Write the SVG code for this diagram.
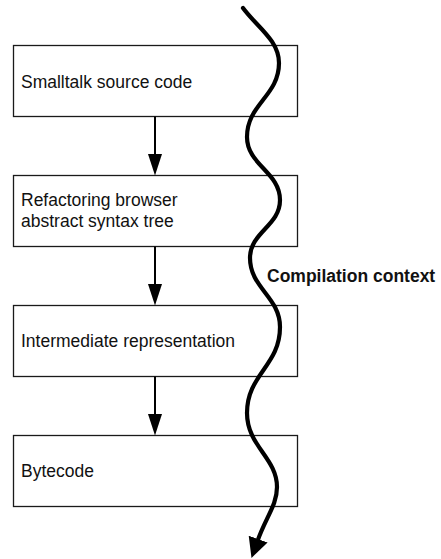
<svg xmlns="http://www.w3.org/2000/svg" width="441" height="559" viewBox="0 0 441 559">
<style>
.box{fill:#fff;stroke:#1a1a1a;stroke-width:1.3}
.lbl{font-family:"Liberation Sans",Arial,sans-serif;font-size:17.5px;fill:#111}
.bold{font-weight:bold}
.flow{stroke:#000;stroke-width:2;fill:none}
.ctx{stroke:#000;stroke-width:4.2;fill:none;stroke-linecap:round}
</style>
<defs>
<marker id="ah" markerUnits="userSpaceOnUse" viewBox="0 0 22 14.4" markerWidth="22" markerHeight="14.4" refX="6" refY="7.2" orient="auto">
<path d="M0,0 L22,7.2 L0,14.4 z" fill="#000"/>
</marker>
<marker id="big" markerUnits="userSpaceOnUse" viewBox="0 0 20 20" markerWidth="20" markerHeight="20" refX="2" refY="10" orient="auto">
<path d="M0,0 L20,10 L0,20 z" fill="#000"/>
</marker>
</defs>
<g id="node1"><rect class="box" x="13.5" y="45.5" width="284" height="71"/><text class="lbl" x="21" y="87.5">Smalltalk source code</text></g>
<g id="node2"><rect class="box" x="13.5" y="175.5" width="284" height="71"/><text class="lbl" x="21" y="206">Refactoring browser</text><text class="lbl" x="21" y="226.5">abstract syntax tree</text></g>
<g id="node3"><rect class="box" x="13.5" y="305.5" width="284" height="71"/><text class="lbl" x="21" y="347">Intermediate representation</text></g>
<g id="node4"><rect class="box" x="13.5" y="435.5" width="284" height="71"/><text class="lbl" x="21" y="477">Bytecode</text></g>
<g id="connectors">
<line class="flow" x1="155" y1="116.5" x2="155" y2="159.5" marker-end="url(#ah)"/>
<line class="flow" x1="155" y1="246.5" x2="155" y2="289.5" marker-end="url(#ah)"/>
<line class="flow" x1="155" y1="376.5" x2="155" y2="419.5" marker-end="url(#ah)"/>
<path class="ctx" d="M243,8 C256,26 279,40 279,63 C279,96 247,104 247,137 C247,165 280,172 280,200 C280,226 250,232 250,258 C250,288 280,297 280,327 C280,366 247,374 247,413 C247,446 277,458 277,487 C277,505 266,517 257.5,541" marker-end="url(#big)"/>
</g>
<g id="context-label"><text class="lbl bold" x="267" y="282">Compilation context</text></g>
</svg>
